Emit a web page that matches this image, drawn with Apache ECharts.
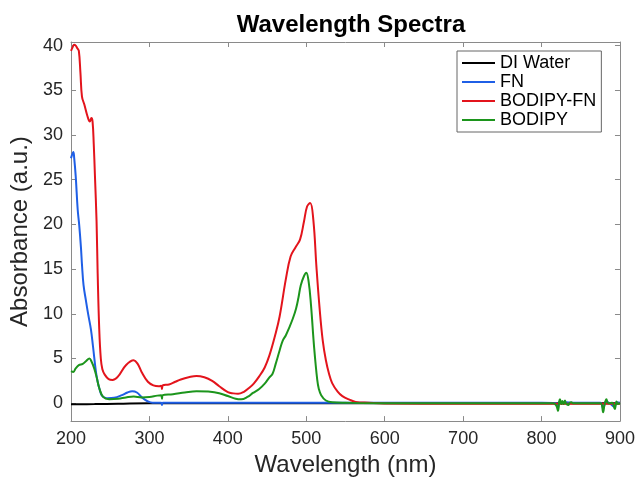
<!DOCTYPE html>
<html>
<head>
<meta charset="utf-8">
<script src="https://cdn.jsdelivr.net/npm/echarts@6/dist/echarts.min.js"></script>
<style>html,body{margin:0;padding:0;background:#fff}#c{width:638px;height:482px}</style>
</head>
<body>
<div id="c"></div>
<script>
const seriesNames = ['DI Water', 'FN', 'BODIPY-FN', 'BODIPY'];
const xTicks = [200, 300, 400, 500, 600, 700, 800, 900];
const yTicks = [0, 5, 10, 15, 20, 25, 30, 35, 40];

const waterNm  = [200, 230, 260, 300, 400, 600, 900];
const waterAbs = [-0.12, -0.1, -0.06, 0, 0, 0, 0];

const fnNm  = [200, 201, 203, 204, 206, 208.5, 210.5, 212.7, 214, 216, 219, 222, 225.4, 228, 231.8, 234, 236, 238, 240, 243, 246.6, 255, 265, 272, 278, 284, 291, 297, 304, 315, 316, 317, 400, 600, 800, 819, 821, 823, 826, 830, 840, 875, 878.5, 882, 886, 893, 895.5, 900];
const fnAbs = [27.4, 27.7, 28.1, 27.5, 25.4, 21.7, 19.9, 17.4, 15.5, 13.2, 11.5, 9.9, 8.25, 6.4, 3.5, 2.4, 1.7, 1.1, 0.8, 0.62, 0.55, 0.6, 0.9, 1.2, 1.34, 1.2, 0.6, 0.25, 0.05, 0.05, -0.2, 0.05, 0.05, 0.05, 0.05, 0.0, -0.5, 0.2, 0.05, 0.1, 0.05, 0.05, -0.6, 0.2, 0.05, -0.4, 0.1, 0.05];

const bfnNm  = [200, 202, 204, 206, 208, 210, 212, 214, 217, 221, 224, 226, 227.5, 229, 230.5, 232.6, 234, 236, 238, 240, 243, 248, 253, 260, 270, 280, 285, 290, 298, 305, 312, 315, 316, 317, 325, 333, 340, 350, 360, 370, 380, 389, 400, 407, 413, 420, 427, 433, 440, 447, 453, 460, 466, 474, 480, 486, 492, 497, 501, 505, 509, 513, 517, 521, 525, 529, 533, 540, 546, 555, 563, 580, 600, 700, 900];
const bfnAbs = [39.4, 39.8, 40.1, 40.0, 39.7, 39.4, 37.0, 34.3, 33.4, 32.1, 31.5, 31.9, 31.5, 29.0, 25.5, 20.3, 14.5, 8.3, 5.0, 3.8, 3.2, 2.7, 2.6, 3.0, 4.25, 4.8, 4.4, 3.5, 2.4, 2.0, 1.9, 1.95, 1.6, 2.0, 2.1, 2.4, 2.65, 2.9, 3.05, 2.9, 2.5, 1.9, 1.25, 1.1, 1.05, 1.25, 1.7, 2.2, 3.0, 4.0, 5.35, 7.5, 9.7, 13.9, 16.4, 17.4, 18.3, 20.3, 22.0, 22.4, 20.5, 15.2, 10.6, 7.0, 4.8, 3.3, 2.25, 1.3, 0.8, 0.4, 0.15, 0.05, -0.03, -0.05, -0.05];

const bdNm  = [200, 203, 206, 210, 215, 219, 223.5, 226, 229.6, 233, 236, 241, 248.7, 260, 270, 280, 290, 300, 310, 315, 316, 317, 330, 345, 360, 375, 389, 400, 410, 417, 425, 432, 440, 447, 453, 457, 461, 466, 470, 474, 478, 483, 487, 490, 493, 497, 500, 503, 506, 510, 514, 516, 519, 525, 533, 550, 600, 815, 819, 821, 822.5, 823.5, 825, 826.4, 828, 829.8, 831, 834, 836, 838, 840, 875, 878.5, 880, 882.7, 885, 890, 893.4, 895.5, 897, 900];
const bdAbs = [3.6, 3.5, 3.9, 4.25, 4.4, 4.7, 5.0, 4.7, 3.9, 2.8, 1.7, 0.7, 0.45, 0.5, 0.65, 0.75, 0.65, 0.7, 0.85, 0.9, 0.5, 0.9, 1.0, 1.2, 1.35, 1.3, 1.12, 0.8, 0.5, 0.44, 0.7, 1.15, 1.6, 2.2, 2.9, 3.3, 4.4, 5.9, 7.0, 7.6, 8.4, 9.5, 10.6, 11.8, 13.2, 14.2, 14.6, 13.6, 11.0, 6.25, 2.6, 1.6, 0.9, 0.3, 0.1, 0.05, 0.0, 0.0, -0.3, -0.85, 0.2, 0.45, -0.1, 0.25, -0.1, 0.3, 0.0, -0.2, 0.05, 0.1, 0.0, 0.0, -1.0, -0.3, 0.45, 0.0, 0.05, -0.65, 0.2, -0.1, 0.0];

const colors = ['#000000', '#1f5fe6', '#e3141c', '#1c951c'];

function pairs(xs, ys) { return xs.map((x, i) => [x, ys[i]]); }

const chart = echarts.init(document.getElementById('c'), null, { renderer: 'canvas' });
const font = 'Liberation Sans, Arial, Helvetica, sans-serif';
const axisGray = '#8a8a8a';
const textCol = '#262626';

const mkSeries = (name, xs, ys, c, sm) => ({
  name: name, type: 'line', data: pairs(xs, ys), symbol: 'none',
  smooth: sm,
  lineStyle: { color: c, width: 2 }, itemStyle: { color: c },
  animation: false
});

chart.setOption({
  backgroundColor: '#ffffff',
  animation: false,
  title: {
    text: 'Wavelength Spectra', left: 346, top: 8, textAlign: 'center',
    textStyle: { fontFamily: font, fontSize: 24, fontWeight: 'bold', color: '#000' }
  },
  legend: {
    orient: 'vertical', left: 457, top: 51,
    data: seriesNames.map(n => ({ name: n, icon: 'rect' })),
    itemWidth: 33, itemHeight: 2, itemGap: 1,
    padding: [3, 5, 3, 5], backgroundColor: '#fff', borderColor: '#666', borderWidth: 1,
    textStyle: { fontFamily: font, fontSize: 18, lineHeight: 16, color: '#000', padding: [0, 0, 0, 0] }
  },
  grid: { left: 71, right: 17, top: 42, bottom: 51, containLabel: false },
  xAxis: [
    {
      type: 'value', min: 200, max: 900, interval: 100, position: 'bottom',
      name: 'Wavelength (nm)', nameLocation: 'middle', nameGap: 26,
      nameTextStyle: { fontFamily: font, fontSize: 24, color: textCol },
      axisLine: { show: true, onZero: false, lineStyle: { color: axisGray, width: 1 } },
      axisTick: { show: true, inside: true, length: 5, lineStyle: { color: axisGray } },
      axisLabel: { fontFamily: font, fontSize: 18, color: textCol, margin: 9, customValues: xTicks },
      splitLine: { show: false }
    },
    {
      type: 'value', min: 200, max: 900, interval: 100, position: 'top',
      axisLine: { show: true, onZero: false, lineStyle: { color: axisGray, width: 1 } },
      axisTick: { show: true, inside: true, length: 5, lineStyle: { color: axisGray } },
      axisLabel: { show: false }, splitLine: { show: false }
    }
  ],
  yAxis: [
    {
      type: 'value', min: -2, max: 40.4, position: 'left',
      name: 'Absorbance (a.u.)', nameLocation: 'middle', nameGap: 36,
      nameTextStyle: { fontFamily: font, fontSize: 24, color: textCol },
      axisLine: { show: true, onZero: false, lineStyle: { color: axisGray, width: 1 } },
      axisTick: { show: true, inside: true, length: 5, lineStyle: { color: axisGray }, customValues: yTicks },
      axisLabel: { fontFamily: font, fontSize: 18, color: textCol, margin: 8, customValues: yTicks },
      splitLine: { show: false }
    },
    {
      type: 'value', min: -2, max: 40.4, position: 'right',
      axisLine: { show: true, onZero: false, lineStyle: { color: axisGray, width: 1 } },
      axisTick: { show: true, inside: true, length: 5, lineStyle: { color: axisGray }, customValues: yTicks },
      axisLabel: { show: false }, splitLine: { show: false }
    }
  ],
  series: [
    mkSeries(seriesNames[0], waterNm, waterAbs, colors[0], 0.4),
    mkSeries(seriesNames[1], fnNm, fnAbs, colors[1], 0.4),
    mkSeries(seriesNames[2], bfnNm, bfnAbs, colors[2], 0.4),
    mkSeries(seriesNames[3], bdNm, bdAbs, colors[3], 0.4)
  ]
});
</script>
</body>
</html>
